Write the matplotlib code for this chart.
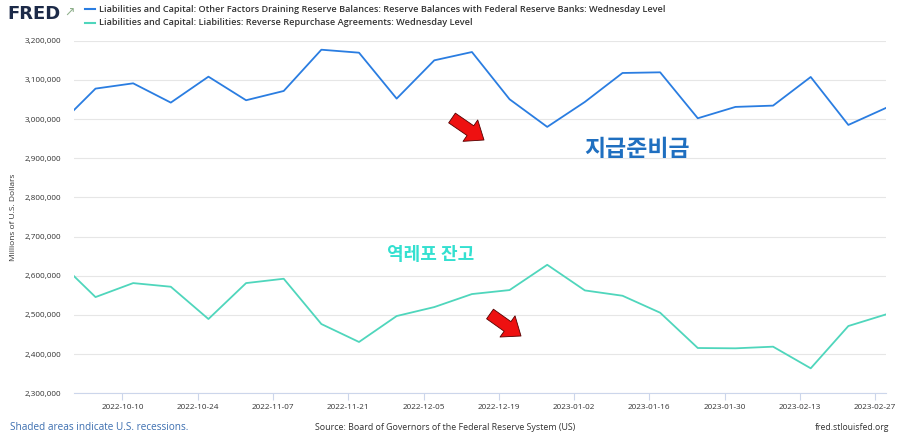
import numpy as np
import pandas as pd
import matplotlib
matplotlib.use("Agg")
import matplotlib.pyplot as plt
import matplotlib.ticker as mticker

# weekly Wednesday observations (first one lies just left of the visible range)
dates = pd.date_range("2022-09-28", "2023-03-01", freq="7D")

reserves = [2982000, 3077700, 3091200, 3042000, 3108200, 3048000, 3071700,
            3177000, 3169400, 3052200, 3149900, 3171100, 3050500, 2980000,
            3043700, 3117600, 3119300, 3002000, 3031000, 3034300, 3107400,
            2985000, 3028400]

rrp = [2639000, 2545600, 2581300, 2572000, 2489600, 2581300, 2592400,
       2476800, 2431000, 2497200, 2520100, 2553300, 2563500, 2628000,
       2562600, 2549000, 2505700, 2415600, 2414800, 2419000, 2363800,
       2471700, 2501400]

tick_labels = ["2022-10-10", "2022-10-24", "2022-11-07", "2022-11-21",
               "2022-12-05", "2022-12-19", "2023-01-02", "2023-01-16",
               "2023-01-30", "2023-02-13", "2023-02-27"]

legend_labels = [
    "Liabilities and Capital: Other Factors Draining Reserve Balances: "
    "Reserve Balances with Federal Reserve Banks: Wednesday Level",
    "Liabilities and Capital: Liabilities: Reverse Repurchase Agreements: "
    "Wednesday Level",
]

BLUE = "#2a7de1"
TEAL = "#4fd6bc"
TXT = "#333333"

plt.rcParams["font.family"] = ["Open Sans", "DejaVu Sans"]

fig = plt.figure(figsize=(9, 4.45), dpi=100)
ax = fig.add_axes([74 / 900, 1 - 393.3 / 445, (886 - 74) / 900, (393.3 - 40.7) / 445])

ax.plot(dates, reserves, color=BLUE, lw=1.3)
ax.plot(dates, rrp, color=TEAL, lw=1.3)

ax.set_xlim(pd.Timestamp("2022-10-01"), pd.Timestamp("2023-03-01"))
ax.set_ylim(2300000, 3200000)

ax.yaxis.set_major_locator(mticker.MultipleLocator(100000))
ax.yaxis.set_major_formatter(mticker.FuncFormatter(lambda v, p: f"{int(v):,}"))
ax.grid(axis="y", color="#e6e6e6", lw=0.8)
ax.set_axisbelow(True)

ax.set_xticks([pd.Timestamp(t) for t in tick_labels])
ax.set_xticklabels(tick_labels)

for s in ["top", "right", "left"]:
    ax.spines[s].set_visible(False)
ax.spines["bottom"].set_color("#ccd6eb")
ax.tick_params(axis="x", colors="#ccd6eb", length=5, labelsize=5.9, labelcolor=TXT, pad=3)
ax.tick_params(axis="y", length=0, labelsize=5.9, labelcolor=TXT, pad=9)

fig.text(14 / 900, 1 - 217 / 445, "Millions of U.S. Dollars", fontsize=6,
         color=TXT, rotation=90, ha="center", va="center")

# header
fig.text(7 / 900, 1 - 14 / 445, "FRED", fontsize=13, fontweight="heavy",
         color="#1c2a48", va="center", family="DejaVu Sans")
fig.text(64 / 900, 1 - 12 / 445, "↗", fontsize=9, color="#8fb08c", va="center",
         family="DejaVu Sans")
for i, (lab, col) in enumerate(zip(legend_labels, [BLUE, TEAL])):
    y = 1 - (9 + 13.5 * i) / 445
    fig.add_artist(plt.Line2D([85 / 900, 95 / 900], [y, y], color=col, lw=1.5,
                              transform=fig.transFigure))
    fig.text(99 / 900, y, lab, fontsize=6.6, fontweight="semibold", color=TXT,
             va="center")

# annotations
fig.text(637 / 900, 1 - 149 / 445, "지급준비금", fontsize=16.5, fontweight="bold",
         color="#1f6fc0", ha="center", va="center",
         family=["Noto Sans CJK KR", "DejaVu Sans"])
fig.text(431 / 900, 1 - 255 / 445, "역레포 잔고", fontsize=13, fontweight="bold",
         color="#33e0d0", ha="center", va="center",
         family=["Noto Sans CJK KR", "DejaVu Sans"])

arrow_style = "simple,head_length=0.7,head_width=1.1,tail_width=0.5"
for tail, head in [((452, 118), (484, 140)), ((490, 314), (521, 336))]:
    ax.annotate("", xy=(head[0], 445 - head[1]), xytext=(tail[0], 445 - tail[1]),
                xycoords="figure pixels", textcoords="figure pixels",
                arrowprops=dict(arrowstyle=arrow_style, fc="#ee1111", ec="#550000",
                                lw=0.6, mutation_scale=17, shrinkA=0, shrinkB=0))

# footer
fig.text(10 / 900, 1 - 427 / 445, "Shaded areas indicate U.S. recessions.",
         fontsize=7.2, color="#3d6fb0", va="center")
fig.text(445 / 900, 1 - 427 / 445,
         "Source: Board of Governors of the Federal Reserve System (US)",
         fontsize=6.4, color=TXT, va="center", ha="center")
fig.text(889 / 900, 1 - 427 / 445, "fred.stlouisfed.org", fontsize=6.2,
         color=TXT, va="center", ha="right")

fig.savefig("out.png", dpi=100)
